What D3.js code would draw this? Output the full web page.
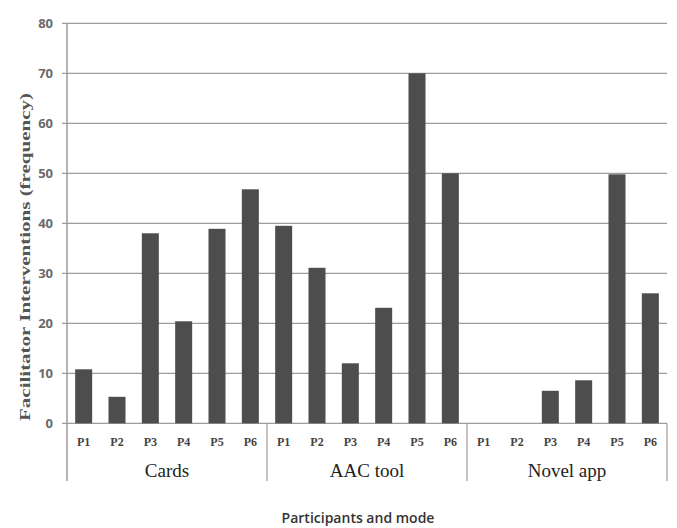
<!DOCTYPE html>
<html><head><meta charset="utf-8">
<script src="https://cdn.jsdelivr.net/npm/d3@7"></script>
<style>body{margin:0;background:#fff}svg{display:block}</style>
</head><body>
<script>
const groups = ["Cards", "AAC tool", "Novel app"];
const participants = ["P1", "P2", "P3", "P4", "P5", "P6"];
const cardsValues = [10.8, 5.3, 38.0, 20.4, 38.9, 46.8];
const aacValues = [39.5, 31.1, 12.0, 23.1, 70.0, 50.0];
const novelValues = [0, 0, 6.5, 8.6, 49.8, 26.0];
const yTicks = [0, 10, 20, 30, 40, 50, 60, 70, 80];

const seriesByGroup = [cardsValues, aacValues, novelValues];
const data = [];
groups.forEach((g, gi) => participants.forEach((p, pi) => data.push({ key: g + "|" + p, group: g, p, v: seriesByGroup[gi][pi] })));

const W = 677, H = 528;
const plotLeft = 67, plotRight = 667, plotTop = 23.3, zeroY = 423.3;
const serif = "'Liberation Serif', 'Times New Roman', Times, serif";
const svg = d3.select("body").append("svg").attr("width", W).attr("height", H);

const x = d3.scaleBand().domain(data.map(d => d.key)).range([plotLeft, plotRight]).paddingInner(0.49).paddingOuter(0.245);
const xg = d3.scaleBand().domain(groups).range([plotLeft, plotRight]);
const y = d3.scaleLinear().domain([0, 80]).range([zeroY, plotTop]);

// gridlines
svg.append("g").selectAll("line").data(yTicks).join("line")
  .attr("x1", plotLeft - 5).attr("x2", plotRight).attr("y1", d => y(d)).attr("y2", d => y(d))
  .attr("stroke", "#a09a98").attr("stroke-width", 1.2);

// y tick labels
svg.append("g").selectAll("text").data(yTicks).join("text")
  .attr("x", 53).attr("y", d => y(d)).attr("dy", "0.36em").attr("text-anchor", "end")
  .attr("font-family", "'Open Sans', sans-serif").attr("font-weight", "bold").attr("font-size", 13)
  .attr("fill", "#6a6a6a").text(d => d);

// bars
svg.append("g").selectAll("rect").data(data).join("rect")
  .attr("x", d => x(d.key)).attr("width", x.bandwidth())
  .attr("y", d => y(d.v)).attr("height", d => y(0) - y(d.v))
  .attr("fill", "#4d4d4d");

// axes lines
svg.append("line").attr("x1", plotLeft).attr("x2", plotLeft).attr("y1", plotTop).attr("y2", 481)
  .attr("stroke", "#a09a98").attr("stroke-width", 1.5);
svg.append("g").selectAll("line").data(groups).join("line")
  .attr("x1", d => xg(d) + xg.bandwidth()).attr("x2", d => xg(d) + xg.bandwidth())
  .attr("y1", zeroY).attr("y2", 481).attr("stroke", "#a09a98").attr("stroke-width", 1.2);

// participant labels
svg.append("g").selectAll("text").data(data).join("text")
  .attr("x", d => x(d.key) + x.bandwidth() / 2).attr("y", 446).attr("text-anchor", "middle")
  .attr("font-family", serif).attr("font-weight", "bold").attr("font-size", 12)
  .attr("fill", "#444").text(d => d.p);

// group labels
svg.append("g").selectAll("text").data(groups).join("text")
  .attr("x", d => xg(d) + xg.bandwidth() / 2).attr("y", 477).attr("text-anchor", "middle")
  .attr("font-family", serif).attr("font-size", 19)
  .attr("fill", "#222").text(d => d);

// y title
svg.append("text").attr("transform", "translate(30,257) rotate(-90)").attr("text-anchor", "middle")
  .attr("font-family", serif).attr("font-weight", "bold").attr("font-size", 14.5)
  .attr("textLength", 328).attr("lengthAdjust", "spacingAndGlyphs")
  .attr("fill", "#555").text("Facilitator Interventions (frequency)");

// x title
svg.append("text").attr("x", 358).attr("y", 523).attr("text-anchor", "middle")
  .attr("font-family", "'Open Sans', sans-serif").attr("font-size", 14).attr("font-weight", 600)
  .attr("fill", "#333").text("Participants and mode");
</script>
</body></html>
